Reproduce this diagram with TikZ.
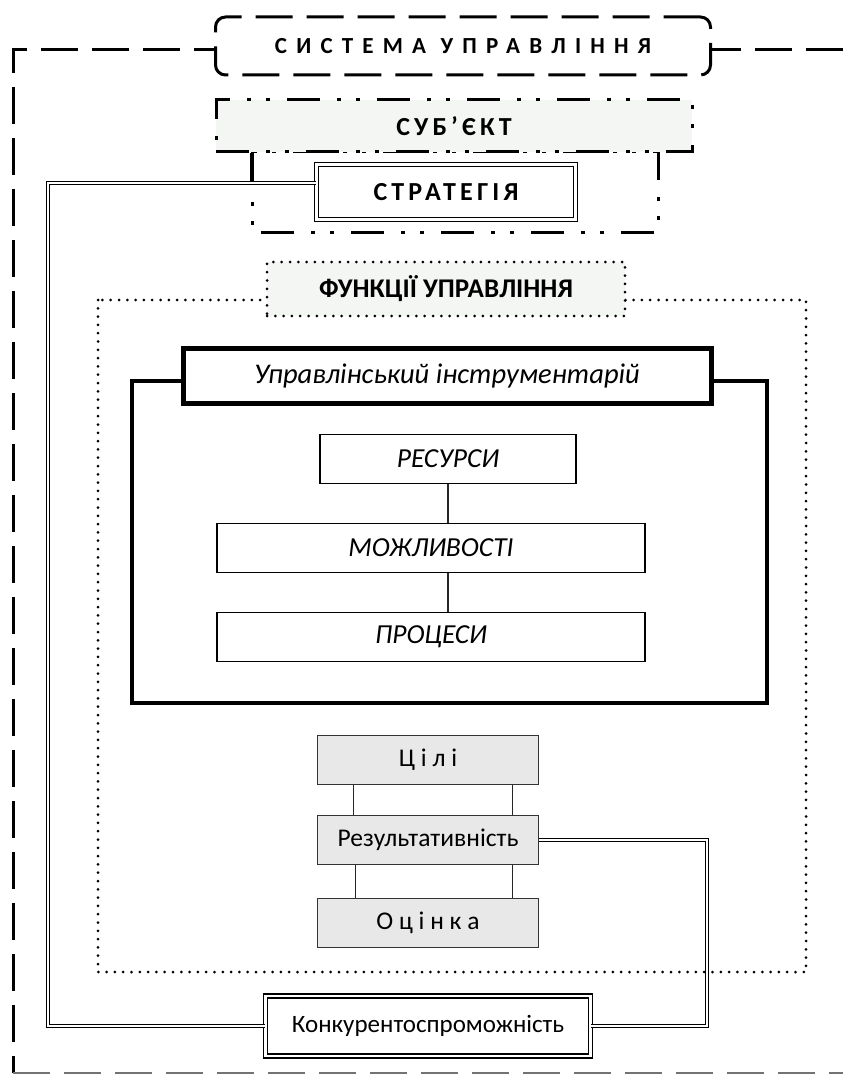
\documentclass[tikz,border=0pt]{standalone}
\usepackage{fontspec}
\setmainfont{Carlito}
\usetikzlibrary{calc}
\definecolor{boxgrey}{RGB}{232,232,232}
\definecolor{palegrey}{RGB}{244,246,244}
\newcommand{\spacedtext}[2][38]{{\addfontfeature{LetterSpace=#1}#2}}
\tikzset{
  outerline/.style  = {line width=3pt, dash pattern=on 37pt off 14pt},
  bottomline/.style = {line width=1.3pt, draw=black!55, dash pattern=on 37pt off 14pt},
  dashdotdot/.style = {line width=3pt, dash pattern=on 33pt off 17pt on 4pt off 15pt on 4pt off 17pt},
  dots/.style       = {line width=3pt, line cap=round, dash pattern=on 0pt off 8.3pt},
  sysbox/.style     = {rectangle, rounded corners=10pt, draw, fill=white, line width=3pt,
                       dash pattern=on 37pt off 14pt, minimum width=495pt, minimum height=58pt,
                       font=\fontsize{23}{27}\selectfont\bfseries},
  subjbox/.style    = {rectangle, draw, fill=palegrey, dashdotdot, minimum width=476pt,
                       minimum height=52pt, font=\fontsize{26}{30}\selectfont\bfseries},
  dblbox/.style     = {rectangle, draw, fill=white, double, double distance=2.5pt,
                       line width=1.3pt, font=\fontsize{25}{29}\selectfont},
  funcbox/.style    = {rectangle, draw, fill=palegrey, dots, minimum width=358pt,
                       minimum height=54pt, font=\fontsize{27}{31}\selectfont\bfseries},
  toolbox/.style    = {rectangle, draw, fill=white, line width=5pt, minimum width=528pt,
                       minimum height=55pt, font=\fontsize{28.5}{32}\selectfont\itshape},
  itembox/.style    = {rectangle, draw, line width=1.2pt, minimum height=49pt,
                       font=\fontsize{27.5}{31}\selectfont\itshape},
  greybox/.style    = {rectangle, draw=black!80, fill=boxgrey, line width=1.3pt,
                       minimum width=221pt, minimum height=49pt, font=\fontsize{25.5}{29}\selectfont},
  link/.style       = {line width=1.2pt, draw=black!85},
  dbllink/.style    = {double, double distance=2pt, line width=1.2pt},
}
\begin{document}
\begin{tikzpicture}[x=1pt, y=-1pt]
  \useasboundingbox (0,0) rectangle (843,1075);
  % ---- outer frame: system of management
  \draw[outerline] (843,50) -- (13,50) -- (13,1073);
  \draw[bottomline] (13,1073) -- (843,1073);
  \node[sysbox] (sys) at (463,46) {\spacedtext[40]{СИСТЕМА УПРАВЛІННЯ}};
  % ---- subject and strategy
  \draw[dashdotdot] (252,152) rectangle (658,233);
  \node[subjbox] (subj) at (454,126) {\spacedtext[16]{СУБ’ЄКТ}};
  \coordinate (sj) at (251,183);
  \draw[line width=3pt] (subj.south west -| sj) -- (sj);
  \node[dblbox, minimum width=259pt, minimum height=55pt,
        font=\fontsize{26}{30}\selectfont\bfseries] (strat) at (446,192) {\spacedtext[16]{СТРАТЕГІЯ}};
  % ---- management functions
  \draw[dots] (98,300) rectangle (806,972);
  \node[funcbox] (func) at (446,289) {ФУНКЦІЇ УПРАВЛІННЯ};
  % ---- management toolkit
  \draw[line width=4pt] (132,381) rectangle (767,703);
  \node[toolbox] (tool) at (447,376) {Управлінський інструментарій};
  \node[itembox, minimum width=256pt] (res) at (448,459) {РЕСУРСИ};
  \node[itembox, minimum width=428pt] (mozh) at (431,548) {МОЖЛИВОСТІ};
  \node[itembox, minimum width=428pt] (proc) at (431,637) {ПРОЦЕСИ};
  \draw[link] (res.south) -- (res.south |- mozh.north);
  \draw[link] (res.south |- mozh.south) -- (res.south |- proc.north);
  % ---- goals, performance, assessment
  \node[greybox] (cili) at (428,760) {Ц і л і};
  \node[greybox] (rez) at (428,840) {Результативність};
  \node[greybox] (ocin) at (428,923) {О ц і н к а};
  \foreach \dx in {37,196}
    \draw[link] ([xshift=\dx pt]cili.south west) -- ([xshift=\dx pt]rez.north west);
  \foreach \dx in {39,196}
    \draw[link] ([xshift=\dx pt]rez.south west) -- ([xshift=\dx pt]ocin.north west);
  % ---- competitiveness and feedback loops
  \node[dblbox, minimum width=325pt, minimum height=60pt] (konk) at (428,1026) {Конкурентоспроможність};
  \coordinate (lt) at (48,183);
  \coordinate (lb) at (48,1026);
  \coordinate (rt) at (707,840);
  \draw[dbllink] (strat.west |- lt) -- (lt) -- (lb) -- (konk.west);
  \draw[dbllink] (rez.east) -- (rt) |- (konk.east);
\end{tikzpicture}
\end{document}
